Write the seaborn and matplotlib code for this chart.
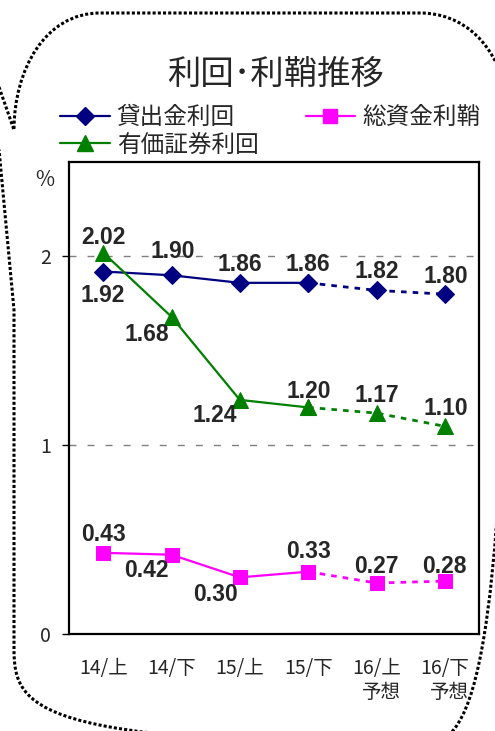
import matplotlib
matplotlib.use("Agg")
import matplotlib.pyplot as plt
from matplotlib.path import Path
from matplotlib.patches import PathPatch
from matplotlib.lines import Line2D
import numpy as np
import pandas as pd
import seaborn as sns

sns.set_style("white")
plt.rcParams['font.family'] = ['Noto Sans CJK JP', 'DejaVu Sans']

# data
periods = ["14/上", "14/下", "15/上", "15/下", "16/上\n予想", "16/下\n予想"]
loan_yield = [1.92, 1.90, 1.86, 1.86, 1.82, 1.80]       # 貸出金利回
sec_yield = [2.02, 1.68, 1.24, 1.20, 1.17, 1.10]        # 有価証券利回
total_margin = [0.43, 0.42, 0.30, 0.33, 0.27, 0.28]     # 総資金利鞘
n_actual = 4  # first 4 are actuals, rest forecast

W, H = 495, 731
fig = plt.figure(figsize=(W / 100, H / 100), dpi=100)
ax = fig.add_axes([69 / W, 1 - 634 / H, 410 / W, 472 / H])

series = [
    ("貸出金利回", loan_yield, "#000080", "D", 9,
     [(0, -24), (1, 24), (0, 18), (0, 18), (0, 19), (1, 18)]),
    ("有価証券利回", sec_yield, "#008000", "^", 12,
     [(0, 15), (-25, -18), (-25, -16), (1, 16), (0, 18), (1, 18)]),
    ("総資金利鞘", total_margin, "#FF00FF", "s", 10,
     [(0, 18), (-25, -16), (-24, -17), (0, 20), (0, 17), (0, 15)]),
]

handles = {}
for name, vals, col, mk, ms, offs in series:
    df = pd.DataFrame({"x": np.arange(len(periods)), "y": vals})
    act = df.iloc[:n_actual]
    fc = df.iloc[n_actual - 1:]
    sns.lineplot(data=fc, x="x", y="y", ax=ax, color=col, lw=2,
                 linestyle=(0, (2, 2.2)), marker=mk, markersize=ms,
                 markeredgecolor=col, zorder=3)
    sns.lineplot(data=act, x="x", y="y", ax=ax, color=col, lw=1.6,
                 marker=mk, markersize=ms, markeredgecolor=col, zorder=4)
    handles[name] = Line2D([], [], color=col, lw=1.6, marker=mk,
                           markersize=ms, markeredgecolor=col)
    for i, v in enumerate(vals):
        ax.annotate(f"{v:.2f}", (i, v), xytext=offs[i], textcoords="offset pixels",
                    ha="center", va="center", fontsize=16.5, fontweight="bold",
                    family=["Liberation Sans", "DejaVu Sans"], zorder=5)

ax.set_xlim(-0.5, len(periods) - 0.5)
ax.set_ylim(0, 2.5)
ax.set_xlabel("")
ax.set_ylabel("")

ax.set_xticks(np.arange(len(periods)))
ax.set_xticklabels(periods, fontsize=14, multialignment="right")
ax.set_xticks(np.arange(len(periods) - 1) + 0.5, minor=True)
ax.tick_params(axis="x", which="major", length=0, pad=17)
ax.tick_params(axis="x", which="minor", direction="in", length=5, width=1, color="black")

ax.set_yticks([0, 1, 2])
ax.set_yticklabels(["0", "1", "2"], fontsize=14)
ax.tick_params(axis="y", which="major", direction="out", length=5, width=1,
               color="black", pad=8, left=True)

ax.grid(False)
for yv in [1, 2]:
    ax.axhline(yv, color="#808080", lw=1, linestyle=(0, (5, 8)), zorder=1)

for sp in ax.spines.values():
    sp.set_color("black")
    sp.set_linewidth(1.6)

fig.text(45 / W, 1 - 180 / H, "%", fontsize=15, ha="center", va="center")
fig.text(276 / W, 1 - 74 / H, "利回･利鞘推移", fontsize=24, ha="center", va="center")

order = ["貸出金利回", "有価証券利回", "総資金利鞘"]
fig.legend([handles[k] for k in order], order, ncol=2, loc="upper left",
           bbox_to_anchor=(60 / W, 1 - 106 / H), frameon=False, fontsize=17,
           handlelength=2.1, handletextpad=0.3, columnspacing=2.0,
           labelspacing=0.2, borderpad=0, borderaxespad=0)

# dotted speech-bubble outline
pts = [(-9, 64), (14, 130), (14, 70), (45, 13), (100, 13), (420, 13),
       (460, 13), (500, 40), (510, 110), (510, 640), (505, 700), (470, 745),
       (420, 745), (100, 745), (40, 742), (14, 710), (14, 650), (14, 310),
       (-9, 64)]
codes = [Path.MOVETO, Path.LINETO, Path.CURVE4, Path.CURVE4, Path.CURVE4,
         Path.LINETO, Path.CURVE4, Path.CURVE4, Path.CURVE4, Path.LINETO,
         Path.CURVE4, Path.CURVE4, Path.CURVE4, Path.LINETO, Path.CURVE4,
         Path.CURVE4, Path.CURVE4, Path.LINETO, Path.LINETO]
verts = [(x / W, 1 - y / H) for x, y in pts]
bubble = PathPatch(Path(verts, codes), transform=fig.transFigure, fill=False,
                   edgecolor="black", lw=2.2, linestyle=(0, (1, 0.7)),
                   capstyle="butt")
fig.patches.append(bubble)

fig.savefig("out.png", dpi=100)
